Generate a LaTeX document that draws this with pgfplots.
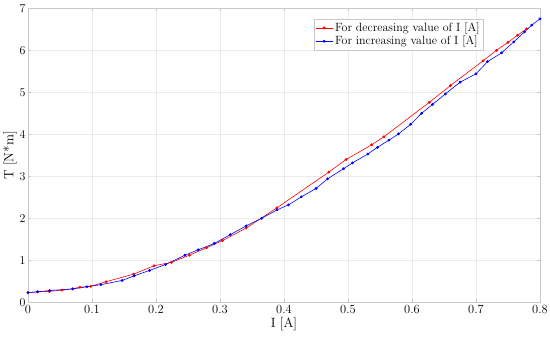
\documentclass[border=0pt]{standalone}
\usepackage{pgfplots}
\pgfplotsset{compat=1.18}
\definecolor{framegray}{RGB}{200,200,200}
\definecolor{gridgray}{RGB}{235,235,235}
\begin{document}
\begin{tikzpicture}[x=1bp,y=1bp]
\begin{axis}[
  at={(0,0)}, anchor=south west,
  scale only axis,
  width=512bp, height=294bp,
  xmin=0, xmax=0.8, ymin=0, ymax=7,
  xtick={0,0.1,...,0.8},
  ytick={0,1,...,7},
  xticklabels={0,0.1,0.2,0.3,0.4,0.5,0.6,0.7,0.8},
  grid=major,
  major grid style={gridgray, line width=0.5pt},
  axis line style={framegray, line width=0.8pt},
  tick style={framegray},
  tick align=inside,
  major tick length=3bp,
  tick label style={font=\fontsize{12.5}{14}\selectfont, text=black},
  label style={font=\fontsize{13.5}{15}\selectfont},
  xticklabel style={yshift=1bp},
  yticklabel style={xshift=1bp},
  xlabel={I [A]},
  ylabel={T [N*m]},
  xlabel style={yshift=3bp},
  ylabel style={yshift=-4bp},
  legend style={at={(0.558,0.964)}, anchor=north west, draw=framegray,
    font=\fontsize{12}{13}\selectfont, row sep=-1bp, inner sep=1.5bp},
  legend cell align=left,
]
\addplot[red, line width=0.6pt, mark=*, mark size=1.1pt] coordinates {
(0,0.23) (0.015,0.25) (0.033,0.26) (0.053,0.29) (0.070,0.32) (0.081,0.36)
(0.098,0.38) (0.122,0.49) (0.165,0.67) (0.197,0.87) (0.224,0.95) (0.252,1.12)
(0.279,1.30) (0.304,1.47) (0.341,1.77) (0.389,2.25) (0.470,3.10) (0.497,3.40)
(0.537,3.75) (0.556,3.94) (0.627,4.76) (0.660,5.16) (0.711,5.75) (0.732,6.00)
(0.750,6.19) (0.765,6.36) (0.779,6.51)
};
\addlegendentry{For decreasing value of I [A]}
\addplot[blue, line width=0.6pt, mark=*, mark size=1.1pt] coordinates {
(0,0.23) (0.015,0.25) (0.034,0.28) (0.070,0.32) (0.092,0.37) (0.114,0.42)
(0.147,0.52) (0.166,0.63) (0.190,0.76) (0.215,0.90) (0.245,1.12) (0.266,1.25)
(0.291,1.40) (0.316,1.61) (0.341,1.82) (0.365,2.00) (0.389,2.20) (0.407,2.32)
(0.427,2.51) (0.450,2.71) (0.468,2.94) (0.493,3.18) (0.507,3.32) (0.531,3.53)
(0.546,3.69) (0.564,3.86) (0.579,4.01) (0.598,4.24) (0.615,4.50) (0.632,4.71)
(0.652,4.96) (0.675,5.24) (0.700,5.44) (0.718,5.73) (0.740,5.94) (0.759,6.20)
(0.776,6.44) (0.787,6.60) (0.800,6.75)
};
\addlegendentry{For increasing value of I [A]}
\end{axis}
\pgfresetboundingbox
\useasboundingbox (-28,-33.7) rectangle (522,302.3);
\end{tikzpicture}
\end{document}
